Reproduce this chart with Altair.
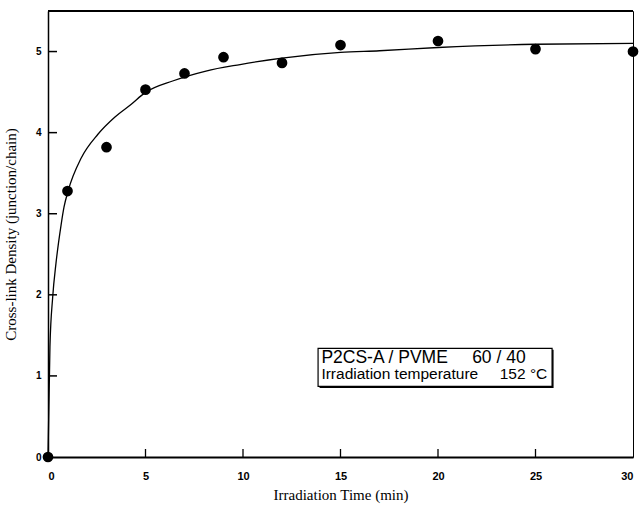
import altair as alt
import pandas as pd

# measured points
time_min = [0, 1, 3, 5, 7, 9, 12, 15, 20, 25, 30]
density = [0.0, 3.28, 3.82, 4.53, 4.73, 4.93, 4.86, 5.08, 5.13, 5.03, 5.00]

# fitted curve
curve_x = [0, 0.1, 0.24, 0.41, 0.67, 0.82, 1.03, 1.71, 2.56, 3.42, 4.27, 4.96, 6.43, 8.1, 9.85, 12, 15, 17, 20, 25, 30]
curve_y = [0, 1.36, 1.97, 2.39, 2.86, 3.08, 3.28, 3.69, 3.98, 4.19, 4.35, 4.49, 4.64, 4.76, 4.84, 4.92, 4.99, 5.01, 5.05, 5.09, 5.10]

x_ticks = [0, 5, 10, 15, 20, 25, 30]
y_ticks = [0, 1, 2, 3, 4, 5]

pts = pd.DataFrame({"t": time_min, "d": density})
crv = pd.DataFrame({"t": curve_x, "d": curve_y})
xt = pd.DataFrame({"v": x_ticks[1:-1], "z": [0] * (len(x_ticks) - 2)})
yt = pd.DataFrame({"v": y_ticks[1:], "z": [0] * (len(y_ticks) - 1)})

W, H = 585, 446
xs = alt.Scale(domain=[0, 30], nice=False, zero=False)
ys = alt.Scale(domain=[0, 5.5], nice=False, zero=False)

xaxis = alt.Axis(values=x_ticks, ticks=False, labelPadding=13, domainWidth=2, domainColor="black",
                 labelFont="Liberation Sans", labelFontSize=11, labelFontWeight=600, labelColor="black",
                 format="d",
                 title="Irradiation Time (min)", titleFont="Liberation Serif", titleFontSize=15,
                 titleFontWeight="normal", titleColor="black", titlePadding=6, grid=False)
yaxis = alt.Axis(values=y_ticks, ticks=False, labelPadding=7, domainWidth=1.5, domainColor="black",
                 labelFont="Liberation Sans", labelFontSize=10, labelFontWeight=600, labelColor="black",
                 format="d",
                 title="Cross-link Density (junction/chain)", titleFont="Liberation Serif", titleFontSize=15,
                 titleFontWeight="normal", titleColor="black", titlePadding=17, grid=False)

line = alt.Chart(crv).mark_line(color="black", strokeWidth=1.3, interpolate="monotone").encode(
    x=alt.X("t:Q", scale=xs, axis=xaxis),
    y=alt.Y("d:Q", scale=ys, axis=yaxis),
)
points = alt.Chart(pts).mark_circle(color="black", size=115, opacity=1, clip=False).encode(
    x=alt.X("t:Q", scale=xs), y=alt.Y("d:Q", scale=ys)
)

# inward ticks as short stroked path symbols
xtick = alt.Chart(xt).mark_point(shape="M0,0L0,-2", size=64, filled=False, stroke="black",
                                 strokeWidth=1.3, opacity=1).encode(
    x=alt.X("v:Q", scale=xs), y=alt.Y("z:Q", scale=ys),
)
ytick = alt.Chart(yt).mark_point(shape="M0,0L2,0", size=81, filled=False, stroke="black",
                                 strokeWidth=1.5, opacity=1).encode(
    x=alt.X("z:Q", scale=xs), y=alt.Y("v:Q", scale=ys),
)
frame = pd.DataFrame({"a": [0]})
top = alt.Chart(frame).mark_rect(color="black", yOffset=-1, y2Offset=1).encode(
    x=alt.datum(0, scale=xs), x2=alt.datum(30),
    y=alt.datum(5.5, scale=ys), y2=alt.datum(5.5),
)

box_df = pd.DataFrame({"x1": [13.85], "x2": [25.85], "y1": [0.87], "y2": [1.34]})
shadow = alt.Chart(box_df).mark_rect(fill="black", xOffset=1.5, x2Offset=1.5, yOffset=1.5, y2Offset=1.5).encode(
    x=alt.X("x1:Q", scale=xs), x2="x2:Q", y=alt.Y("y1:Q", scale=ys), y2="y2:Q"
)
box = alt.Chart(box_df).mark_rect(fill="white", stroke="black", strokeWidth=1.2).encode(
    x=alt.X("x1:Q", scale=xs), x2="x2:Q", y=alt.Y("y1:Q", scale=ys), y2="y2:Q"
)
nb = "\u00a0"
t1 = alt.Chart(box_df).mark_text(text="P2CS-A / PVME" + nb * 5 + "60 / 40", font="Liberation Sans",
                                 fontSize=17.5, align="left", baseline="alphabetic", color="black").encode(
    x=alt.datum(14.02, scale=xs), y=alt.datum(1.16, scale=ys)
)
t2 = alt.Chart(box_df).mark_text(text="Irradiation temperature" + nb * 5 + "152 °C", font="Liberation Sans",
                                 fontSize=15.5, align="left", baseline="alphabetic", color="black").encode(
    x=alt.datum(14.02, scale=xs), y=alt.datum(0.96, scale=ys)
)

chart = alt.layer(line, xtick, ytick, top, shadow, box, t1, t2, points).properties(
    width=W, height=H,
    autosize=alt.AutoSizeParams(type="none"),
    padding={"left": 48, "top": 11, "right": 7, "bottom": 50},
    background="white",
).configure_view(stroke="black", strokeWidth=1)

chart.save("out.html", embed_options={"renderer": "svg", "actions": False})
